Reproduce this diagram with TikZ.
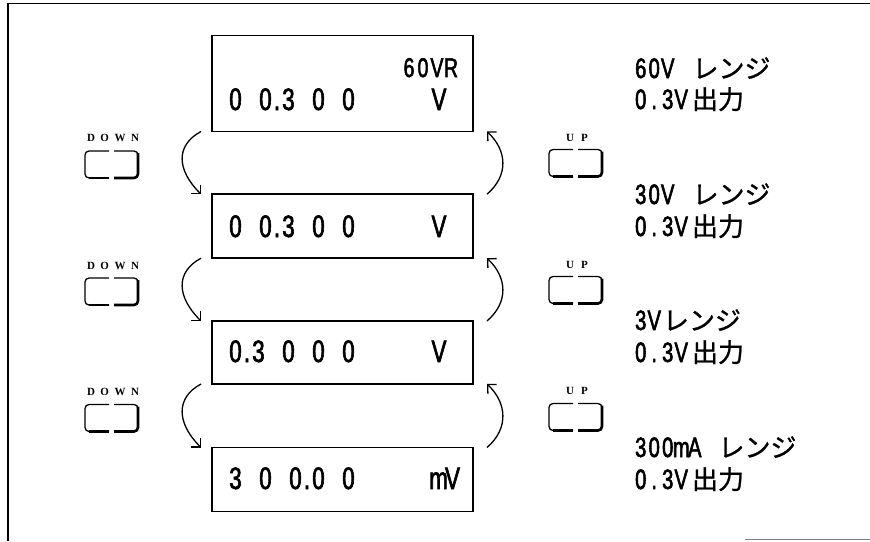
\documentclass[tikz,border=0pt]{standalone}
\usepackage{fontspec}
\newfontfamily\lcdfont[FakeStretch=0.72,FakeBold=2]{Liberation Sans}
\newfontfamily\jpfont[FakeBold=1]{Noto Sans CJK JP}
\newfontfamily\btnfont{Liberation Serif}
\usetikzlibrary{arrows.meta,calc}
\newcommand\lcdbig{\lcdfont\fontsize{31}{31}\selectfont}
\newcommand\lcdmid{\lcdfont\fontsize{27}{27}\selectfont}
\newcommand\lcdsmall{\lcdfont\fontsize{28}{28}\selectfont}
\newcommand\jpsize{\jpfont\fontsize{26}{26}\selectfont}
\newcommand\bxd[1]{\makebox[15pt]{#1}}
\newcommand\bxdot{\makebox[8pt]{.}}
\newcommand\unc[1]{\makebox[14pt]{#1}}
\newcommand\lbd[1]{\makebox[13.5pt]{#1}}
\tikzset{
  lcdbox/.style={draw, line width=1.6pt, minimum width=261pt, inner sep=0pt, outer sep=0pt},
  txt/.style={inner sep=0pt, outer sep=0pt, anchor=base west},
  arr/.style={line width=1.3pt, -{Straight Barb[angle=90:9pt]}},
  btnlabel/.style={inner sep=0pt, anchor=base, font=\btnfont\bfseries\fontsize{11}{11}\selectfont},
  btn/.pic={
    \draw[line width=1.3pt, rounded corners=4pt] (24,0) -- (0,0) -- (0,27) -- (24,27);
    \draw[line width=1.3pt, rounded corners=4pt] (29,0) -- (53,0) -- (53,27) -- (29,27);
    \draw[line width=2.6pt, rounded corners=4pt] (53,2) -- (53,27) -- (29,27);
    \draw[line width=2.4pt] (4,27) -- (24,27);
  }
}
\begin{document}
\begin{tikzpicture}[x=1pt,y=-1pt]
\useasboundingbox (0,0) rectangle (870,541);
% frame
\draw[line width=1.2pt] (870,3.5) -- (8,3.5) -- (8,541);
\draw[gray, line width=1.5pt] (745,539.5) -- (870,539.5);
% display boxes
\node[lcdbox, minimum height=96pt] (b1) at (342.5,83.5) {};
\node[lcdbox, minimum height=64pt] (b2) at (342.5,226.2) {};
\node[lcdbox, minimum height=63pt] (b3) at (342.5,352.5) {};
\node[lcdbox, minimum height=64pt] (b4) at (342.5,479.5) {};
% display texts
\node[txt, font=\lcdmid] (r60) at (402,77) {\unc{6}\unc{0}\unc{V}\unc{R}};
\node[txt, font=\lcdbig] (v1) at (228,110) {\bxd{0}\bxd{}\bxd{0}\bxdot\bxd{3}\bxd{}\bxd{0}\bxd{}\bxd{0}};
\node[txt, font=\lcdbig] (u1) at (432,110) {\unc{V}};
\node[txt, font=\lcdbig] (v2) at (228,237) {\bxd{0}\bxd{}\bxd{0}\bxdot\bxd{3}\bxd{}\bxd{0}\bxd{}\bxd{0}};
\node[txt, font=\lcdbig] (u2) at (432,237) {\unc{V}};
\node[txt, font=\lcdbig] (v3) at (228,362) {\bxd{0}\bxdot\bxd{3}\bxd{}\bxd{0}\bxd{}\bxd{0}\bxd{}\bxd{0}};
\node[txt, font=\lcdbig] (u3) at (432,362) {\unc{V}};
\node[txt, font=\lcdbig] (v4) at (228,489) {\bxd{3}\bxd{}\bxd{0}\bxd{}\bxd{0}\bxdot\bxd{0}\bxd{}\bxd{0}};
\node[txt, font=\lcdbig] (u4) at (431.5,489) {\unc{m}\unc{V}};
% right labels
\node[txt] (t1a) at (634,78) {\lcdsmall\lbd{6}\lbd{0}\lbd{V}\hspace{18pt}\jpsize レンジ};
\node[txt] (t1b) at (634,109) {\lcdsmall\lbd{0}\lbd{.}\lbd{3}\lbd{V}\hspace{4pt}\jpsize 出力};
\node[txt] (t2a) at (634,204) {\lcdsmall\lbd{3}\lbd{0}\lbd{V}\hspace{18pt}\jpsize レンジ};
\node[txt] (t2b) at (634,236) {\lcdsmall\lbd{0}\lbd{.}\lbd{3}\lbd{V}\hspace{4pt}\jpsize 出力};
\node[txt] (t3a) at (634,330) {\lcdsmall\lbd{3}\lbd{V}\hspace{2pt}\jpsize レンジ};
\node[txt] (t3b) at (634,362) {\lcdsmall\lbd{0}\lbd{.}\lbd{3}\lbd{V}\hspace{4pt}\jpsize 出力};
\node[txt] (t4a) at (634,457) {\lcdsmall\lbd{3}\lbd{0}\lbd{0}\lbd{m}\lbd{A}\hspace{17pt}\jpsize レンジ};
\node[txt] (t4b) at (634,489) {\lcdsmall\lbd{0}\lbd{.}\lbd{3}\lbd{V}\hspace{4pt}\jpsize 出力};
% buttons
\node[btnlabel] (dl1) at (113,141.5) {D\hspace{5.5pt}O\hspace{5.5pt}W\hspace{5.5pt}N};
\node[btnlabel] (dl2) at (113,269) {D\hspace{5.5pt}O\hspace{5.5pt}W\hspace{5.5pt}N};
\node[btnlabel] (dl3) at (113,395) {D\hspace{5.5pt}O\hspace{5.5pt}W\hspace{5.5pt}N};
\node[btnlabel] (ul1) at (577,141) {U\hspace{7pt}P};
\node[btnlabel] (ul2) at (577,268.5) {U\hspace{7pt}P};
\node[btnlabel] (ul3) at (577,394.5) {U\hspace{7pt}P};
\pic at (85,151) {btn};
\pic at (85,278) {btn};
\pic at (85,404.5) {btn};
\pic at (549,149.5) {btn};
\pic at (549,276.5) {btn};
\pic at (549,403.5) {btn};
% down arrows
\draw[arr] ([xshift=-11pt]b1.south west) .. controls +(-26,14) and +(-24,-24) .. ([xshift=-11pt]b2.north west);
\draw[arr] ([xshift=-11pt]b2.south west) .. controls +(-26,14) and +(-24,-24) .. ([xshift=-11pt]b3.north west);
\draw[arr] ([xshift=-11pt]b3.south west) .. controls +(-26,14) and +(-24,-24) .. ([xshift=-11pt]b4.north west);
% up arrows
\draw[arr] ([xshift=14pt]b2.north east) .. controls +(22,-19) and +(20,19) .. ([xshift=14pt]b1.south east);
\draw[arr] ([xshift=14pt]b3.north east) .. controls +(22,-19) and +(20,19) .. ([xshift=14pt]b2.south east);
\draw[arr] ([xshift=14pt]b4.north east) .. controls +(22,-19) and +(20,19) .. ([xshift=14pt]b3.south east);
\end{tikzpicture}
\end{document}
